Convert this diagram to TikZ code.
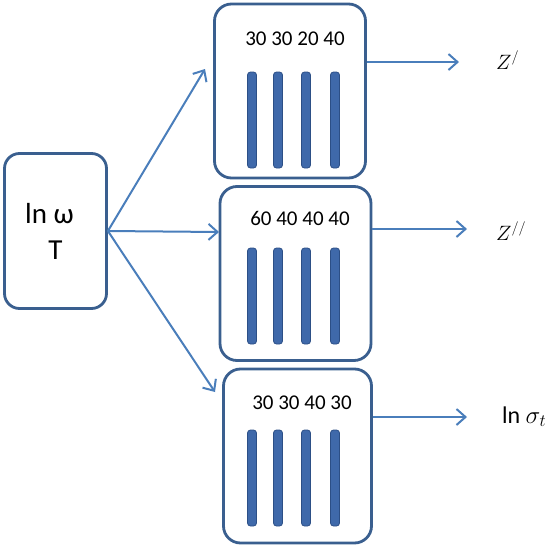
\documentclass[tikz,border=0pt]{standalone}
\usepackage{amsmath}
\usepackage{fontspec}
\setmainfont{Carlito}
\usetikzlibrary{arrows.meta}

\definecolor{boxblue}{HTML}{3A5F8F}
\definecolor{arrowblue}{HTML}{4A7EBB}
\definecolor{barblue}{HTML}{3F69AA}
\definecolor{bardark}{HTML}{2C4F86}

\tikzset{
	netbox/.style={draw=boxblue, line width=2.8pt, rounded corners=17pt, minimum width=151pt, minimum height=174pt},
	flow/.style={draw=arrowblue, line width=2pt, -{Straight Barb[length=9pt,width=16pt]}},
	bar/.style={fill=barblue, draw=bardark, line width=0.8pt, rounded corners=3pt},
	nums/.style={font=\fontsize{21}{25}\selectfont, inner sep=0pt},
	outlabel/.style={anchor=base west, inner sep=0pt},
}

\begin{document}
\begin{tikzpicture}[x=1pt,y=-1pt]

		\useasboundingbox (0,0) rectangle (550,547);

		% input and the three networks
		\node[netbox, minimum width=102pt, minimum height=155pt, rounded corners=15pt, align=center, font=\fontsize{29}{36}\selectfont] (input) at (55.5,231) {ln ω\hspace*{12pt}\\T};
		\node[netbox] (netA) at (290,91) {};
		\node[netbox] (netB) at (295.5,273.5) {};
		\node[netbox, minimum width=148pt] (netC) at (297.5,456) {};

		% hidden layers
		\foreach \top in {72,248,430}{
				\foreach \x in {252,278,306,335}{
					\draw [bar] (\x-4.5,\top) rectangle (\x+4.5,\top+96);
			}
		}

		\node[nums] (numA) at (295,39) {30 30 20 40};
		\node[nums] (numB) at (300,218) {60 40 40 40};
		\node[nums] (numC) at (302,403) {30 30 40 30};

		% outputs
		\node[outlabel, font=\fontsize{20.5}{24}\selectfont] (zre) at (496,69) {$Z^{/}$};
		\node[outlabel, font=\fontsize{20.5}{24}\selectfont] (zim) at (496,240) {$Z^{//}$};
		\node[outlabel, font=\fontsize{24}{28}\selectfont] (sig) at (502,423) {ln $\sigma_t$};

		\coordinate (hitA) at (205,69);
		\coordinate (hitB) at (219,232);
		\coordinate (hitC) at (215,392);
		\coordinate (endA) at (459,62);
		\coordinate (endB) at (467,229);
		\coordinate (endC) at (467,417);

		\draw [flow] (input.east) -- (hitA);
		\draw [flow] (input.east) -- (hitB);
		\draw [flow] (input.east) -- (hitC);

		\draw [flow] (netA.east |- endA) -- (endA);
		\draw [flow] (netB.east |- endB) -- (endB);
		\draw [flow] (netC.east |- endC) -- (endC);

\end{tikzpicture}
\end{document}
